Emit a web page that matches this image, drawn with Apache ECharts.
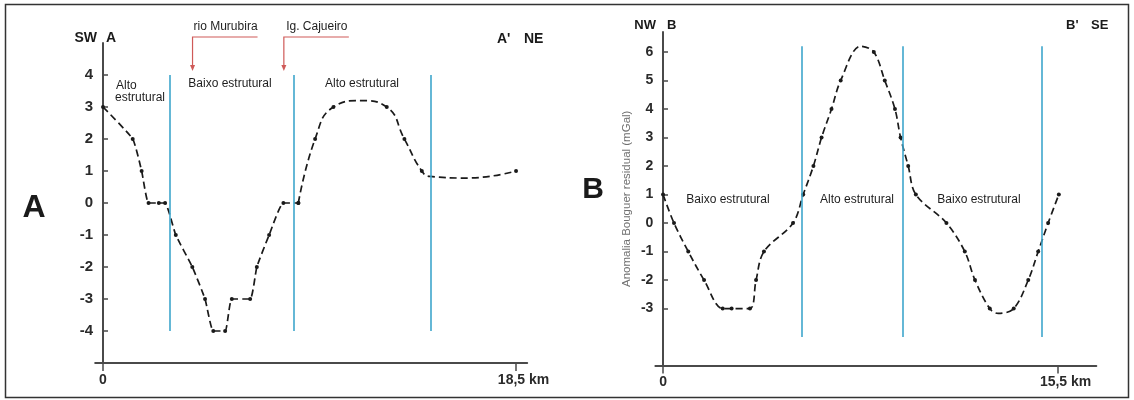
<!DOCTYPE html>
<html><head><meta charset="utf-8">
<script src="https://cdn.jsdelivr.net/npm/echarts@6/dist/echarts.min.js"></script>
<style>html,body{margin:0;padding:0;background:#fff}#c{width:1134px;height:400px}</style>
</head><body><div id="c"></div>
<script>
// ---------- Profile A (SW A -> A' NE), 18,5 km ----------
const distA1 = [0, 1.33, 1.73, 2.04, 2.5, 2.78, 3.26, 4.0, 4.57, 4.94, 5.47, 5.77, 6.59, 6.89, 7.44, 8.08, 8.75];
const anomA1 = [3, 2, 1, 0, 0, 0, -1, -2, -3, -4, -4, -3, -3, -2, -1, 0, 0];
const distA2 = [8.75, 9.5, 10.32, 11.55, 12.71, 13.5, 14.28, 14.65, 16.3, 18.5];
const anomA2 = [0, 2, 3, 3.2, 3, 2, 1, 0.83, 0.78, 1.0];
const dotA2  = [1, 1, 1, 0, 1, 1, 1, 0, 0, 1];
const boundsA = [3.0, 8.56, 14.7];
const boundRangeA = [-4, 4];
const yTicksA = [-4, -3, -2, -1, 0, 1, 2, 3, 4];
const xTicksA = [0, 18.5];
const riversA = ['rio Murubira', 'Ig. Cajueiro'];
const riverKmA = [4.01, 8.1];

// ---------- Profile B (NW B -> B' SE), 15,5 km ----------
const distB = [0, 0.43, 0.99, 1.61, 2.34, 2.69, 3.41, 3.65, 3.96, 5.1, 5.5, 5.9, 6.22, 6.61, 6.97, 7.75, 8.27, 8.7, 9.1, 9.32, 9.62, 9.92, 11.12, 11.84, 12.24, 12.82, 13.15, 13.76, 14.33, 14.72, 15.11, 15.53];
const anomB = [1, 0, -1, -2, -3, -3, -3, -2, -1, 0, 1, 2, 3, 4, 5, 6.2, 6, 5, 4, 3, 2, 1, 0, -1, -2, -3, -3.17, -3, -2, -1, 0, 1];
const dotB  = [1,1,1,1,1,1,1,1,1,1,1,1,1,1,1,0,1,1,1,1,1,1,1,1,1,1,0,1,1,1,1,1];
const boundsB = [5.44, 9.4, 14.86];
const boundRangeB = [-4, 6.2];
const yTicksB = [-3, -2, -1, 0, 1, 2, 3, 4, 5, 6];
const xTicksB = [0, 15.5];

const FONT = "'Liberation Sans', Arial, sans-serif";
const BLUE = '#3ea6cc';
const RED = '#cf5a58';
const AX = '#4a4a4a';

function pts(xs, ys, dots) {
  return xs.map((x, i) => dots && !dots[i] ? { value: [x, ys[i]], symbol: 'none' } : [x, ys[i]]);
}
function boundLines(bs, r) {
  return bs.map(x => [{ coord: [x, r[0]] }, { coord: [x, r[1]] }]);
}
function xFmt(v) { return v === 0 ? '0' : '{km|' + String(v).replace('.', ',') + ' km}'; }

const lineBase = {
  type: 'line', symbol: 'circle', symbolSize: 4,
  itemStyle: { color: '#1a1a1a' },
  lineStyle: { color: '#1a1a1a', width: 1.7, type: [7, 4] },
  silent: true, animation: false, clip: false
};
const markBase = (bs, r) => ({
  silent: true, symbol: ['none', 'none'], animation: false,
  label: { show: false },
  lineStyle: { color: BLUE, width: 1.6, type: 'solid' },
  data: boundLines(bs, r)
});

function xAxisCfg(grid, max, ticks) {
  return {
    type: 'value', gridIndex: grid, min: grid === 0 ? -0.35 : -0.3, max: max,
    axisLine: { onZero: false, lineStyle: { color: AX, width: 2 } },
    splitLine: { show: false },
    axisTick: { customValues: ticks, length: 8, lineStyle: { color: AX, width: 1.5 } },
    axisLabel: {
      customValues: ticks, formatter: xFmt, margin: 10,
      fontFamily: FONT, fontWeight: 'bold', fontSize: 14, color: '#2a2a2a',
      rich: { km: { fontFamily: FONT, fontWeight: 'bold', fontSize: 14, color: '#2a2a2a', padding: [0, 0, 0, 15] } }
    }
  };
}
function yAxisCfg(grid, min, max, ticks, fs, margin) {
  return {
    type: 'value', gridIndex: grid, min: min, max: max,
    axisLine: { onZero: true, lineStyle: { color: AX, width: 2 } },
    splitLine: { show: false },
    axisTick: { customValues: ticks, inside: true, length: 5, lineStyle: { color: AX, width: 1.5 } },
    axisLabel: { customValues: ticks, margin: margin, fontFamily: FONT, fontWeight: 'bold', fontSize: fs, color: '#2a2a2a' }
  };
}

const chart = echarts.init(document.getElementById('c'), null, { renderer: 'canvas' });

const yB = yAxisCfg(1, -5, 6.7, yTicksB, 14, 2);
yB.name = 'Anomalia Bouguer residual (mGal)';
yB.nameLocation = 'middle';
yB.nameRotate = 90;
yB.nameGap = 23;
yB.nameTextStyle = { fontFamily: FONT, fontSize: 11.5, color: '#707070' };

function txt(x, y, s, size, weight, align, color) {
  return { type: 'text', x: x, y: y, silent: true,
    style: { text: s, font: (weight || 'normal') + ' ' + size + 'px ' + FONT, fill: color || '#1e1e1e',
      align: align || 'center', verticalAlign: 'middle' } };
}

chart.setOption({
  backgroundColor: '#ffffff',
  animation: false,
  grid: [
    { left: 95.2, top: 43, width: 432, height: 320, outerBoundsMode: 'none', containLabel: false },
    { left: 655.4, top: 32, width: 440.9, height: 333.6, outerBoundsMode: 'none', containLabel: false }
  ],
  xAxis: [xAxisCfg(0, 19, xTicksA), xAxisCfg(1, 17, xTicksB)],
  yAxis: [yAxisCfg(0, -5, 5, yTicksA, 15, 2), yB],
  series: [
    Object.assign({}, lineBase, { xAxisIndex: 0, yAxisIndex: 0, smooth: 0.15, data: pts(distA1, anomA1),
      markLine: markBase(boundsA, boundRangeA) }),
    Object.assign({}, lineBase, { xAxisIndex: 0, yAxisIndex: 0, smooth: 0.5, data: pts(distA2, anomA2, dotA2) }),
    Object.assign({}, lineBase, { xAxisIndex: 1, yAxisIndex: 1, smooth: 0.35, data: pts(distB, anomB, dotB),
      markLine: markBase(boundsB, boundRangeB) })
  ]
});

// annotations
const g = [];
g.push({ type: 'rect', silent: true, shape: { x: 5.5, y: 4.5, width: 1123, height: 393 },
  style: { fill: 'none', stroke: '#333', lineWidth: 1.5 } });
// panel letters & orientation
g.push(txt(34, 208, 'A', 32, 'bold', 'center', '#1a1a1a'));
g.push(txt(593, 190, 'B', 30, 'bold', 'center', '#1a1a1a'));
g.push(txt(97, 38, 'SW', 14, 'bold', 'right', '#1a1a1a'));
g.push(txt(106, 38, 'A', 14, 'bold', 'left', '#1a1a1a'));
g.push(txt(497, 39, "A'", 14, 'bold', 'left', '#1a1a1a'));
g.push(txt(524, 39, 'NE', 14, 'bold', 'left', '#1a1a1a'));
g.push(txt(656, 25, 'NW', 13, 'bold', 'right', '#1a1a1a'));
g.push(txt(667, 25, 'B', 13, 'bold', 'left', '#1a1a1a'));
g.push(txt(1066, 25, "B'", 13, 'bold', 'left', '#1a1a1a'));
g.push(txt(1091, 25, 'SE', 13, 'bold', 'left', '#1a1a1a'));
// structural labels A
g.push(txt(116, 86, 'Alto', 12, 'normal', 'left'));
g.push(txt(115, 98, 'estrutural', 12, 'normal', 'left'));
g.push(txt(230, 84, 'Baixo estrutural', 12, 'normal', 'center'));
g.push(txt(362, 84, 'Alto estrutural', 12, 'normal', 'center'));
// structural labels B
g.push(txt(728, 200, 'Baixo estrutural', 12, 'normal', 'center'));
g.push(txt(857, 200, 'Alto estrutural', 12, 'normal', 'center'));
g.push(txt(979, 200, 'Baixo estrutural', 12, 'normal', 'center'));
// rivers
riversA.forEach((name, i) => {
  const px = chart.convertToPixel({ gridIndex: 0 }, [riverKmA[i], 0])[0];
  g.push(txt(px + 33, 27, name, 12, 'normal', 'center'));
  g.push({ type: 'polyline', silent: true, shape: { points: [[px + 65, 37], [px, 37], [px, 66]] },
    style: { stroke: RED, lineWidth: 1.2, fill: 'none' } });
  g.push({ type: 'polygon', silent: true, shape: { points: [[px - 2.5, 65], [px + 2.5, 65], [px, 71]] },
    style: { fill: RED } });
});
chart.setOption({ graphic: g });
</script>
</body></html>
